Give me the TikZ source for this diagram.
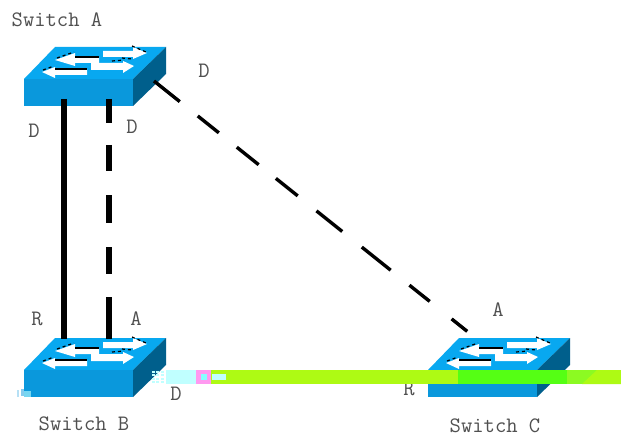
\documentclass[tikz,border=0pt]{standalone}
\usepackage{fontspec}
\setmonofont{Latin Modern Mono}
\definecolor{swtop}{HTML}{08A8F0}
\definecolor{swfront}{HTML}{0A98DC}
\definecolor{swside}{HTML}{005F8C}
\definecolor{bandy}{HTML}{AEFA14}
\definecolor{bandg}{HTML}{55FF14}
\definecolor{bandm}{HTML}{8CFA22}
\definecolor{bandc}{HTML}{C0FFFF}
\definecolor{bandp}{HTML}{FF99F0}
\definecolor{txt}{HTML}{505050}
\tikzset{
  lbl/.style={inner sep=0pt,text=txt,font=\fontsize{22}{22}\selectfont\ttfamily},
  link/.style={draw=black,line width=5.5pt},
  diag/.style={draw=black,line width=3.4pt,
    dash pattern=on 33pt off 23pt on 27pt off 23pt on 28pt off 22pt on 28pt off 24pt on 33pt off 25pt on 37pt off 24pt on 26pt off 28pt on 20pt off 10pt},
  vdash/.style={draw=black,line width=5.5pt,
    dash pattern=on 24pt off 22pt on 26pt off 24pt on 28pt off 24pt on 27pt off 23pt on 44pt off 10pt},
  wa/.style={fill=white,draw=none},
  bk/.style={draw=black,line width=1.5pt},
  bkd/.style={draw=black,line width=1.2pt,dash pattern=on 3pt off 3pt},
}
% switch whose front top-left corner is at (#1,#2)
\newcommand{\swbox}[2]{%
\begin{scope}[shift={(#1,#2)}]
  \fill[swtop] (0,0) -- (31,-32) -- (142,-32) -- (109,0) -- cycle;
  \fill[swfront] (0,0) rectangle (109,27);
  \fill[swside] (109,0) -- (142,-32) -- (142,-5) -- (109,27) -- cycle;
  % upper left
  \fill[wa] (31,-19) -- (51,-26) -- (51,-22) -- (75,-22) -- (75,-16) -- (51,-16) -- (51,-13) -- cycle;
  \draw[bk] (51,-22) -- (75,-22);
  \draw[bkd] (33,-21) -- (50,-27);
  % upper right
  \fill[wa] (79,-28) -- (109,-28) -- (109,-32) -- (123,-26) -- (109,-20) -- (109,-22) -- (79,-22) -- cycle;
  \draw[bkd] (108,-33) -- (122,-27);
  \draw[bkd] (98,-21) -- (108,-20);
  % lower left
  \fill[wa] (18,-7) -- (31,-12) -- (31,-10) -- (63,-10) -- (63,-4) -- (31,-4) -- (31,-1) -- cycle;
  \draw[bk] (31,-10) -- (63,-10);
  \draw[bkd] (19,-9) -- (30,-13);
  % lower right
  \fill[wa] (67,-16) -- (99,-16) -- (99,-18) -- (110,-13) -- (99,-6) -- (99,-9) -- (67,-9) -- cycle;
  \draw[bkd] (88,-18) -- (100,-19);
\end{scope}}
\begin{document}
\begin{tikzpicture}[x=1pt,y=-1pt]
\useasboundingbox (0,0) rectangle (621,441);
\fill[white] (0,0) rectangle (621,441);
\swbox{24}{79}
\swbox{24}{370}
\swbox{428}{370}
\coordinate (a1) at (64,99);
\coordinate (a2) at (109,99);
\coordinate (a3) at (154,81);
\coordinate (b1) at (64,339);
\coordinate (b2) at (109,339);
\coordinate (c1) at (468,332);
\draw[link] (a1) -- (b1);
\draw[vdash] (a2) -- (b2);
\draw[diag] (a3) -- (c1);
\node[lbl] (swa) at (57,20) {Switch A};
\node[lbl] (la1) at (34,131) {D};
\node[lbl] (la2) at (132,127) {D};
\node[lbl] (la3) at (204,71) {D};
\node[lbl] (lb1) at (37,319) {R};
\node[lbl] (lb2) at (136,319) {A};
\node[lbl] (lb3) at (176,394) {D};
\node[lbl] (swb) at (84,424) {Switch B};
\node[lbl] (lc1) at (498,310) {A};
\node[lbl] (lc2) at (409,389) {R};
\node[lbl] (swc) at (495,426) {Switch C};
% corrupted band across the picture
\fill[bandc] (166,370) rectangle (196,384);
\fill[bandp] (196,370) rectangle (211,384);
\fill[bandc!70!cyan] (201,374) rectangle (207,380);
\fill[bandy] (211,370) rectangle (458,384);
\fill[bandc] (212,374) rectangle (226,380);
\fill[bandg] (458,370) rectangle (567,384);
\fill[bandm] (567,370) rectangle (621,384);
\fill[bandy] (582,384) -- (597,370) -- (621,370) -- (621,384) -- cycle;
\foreach \i in {0,1,2} \foreach \j in {0,1,2,3}
  \fill[bandc] (151.5+4.8*\i,370.5+3.5*\j) rectangle +(3,2.4);
\fill[bandc!60!swfront] (24,391) rectangle (31,397);
\fill[swfront!30] (17,390) rectangle (19,397);
\fill[swfront!50] (21,389) rectangle (24,396);
\end{tikzpicture}
\end{document}
